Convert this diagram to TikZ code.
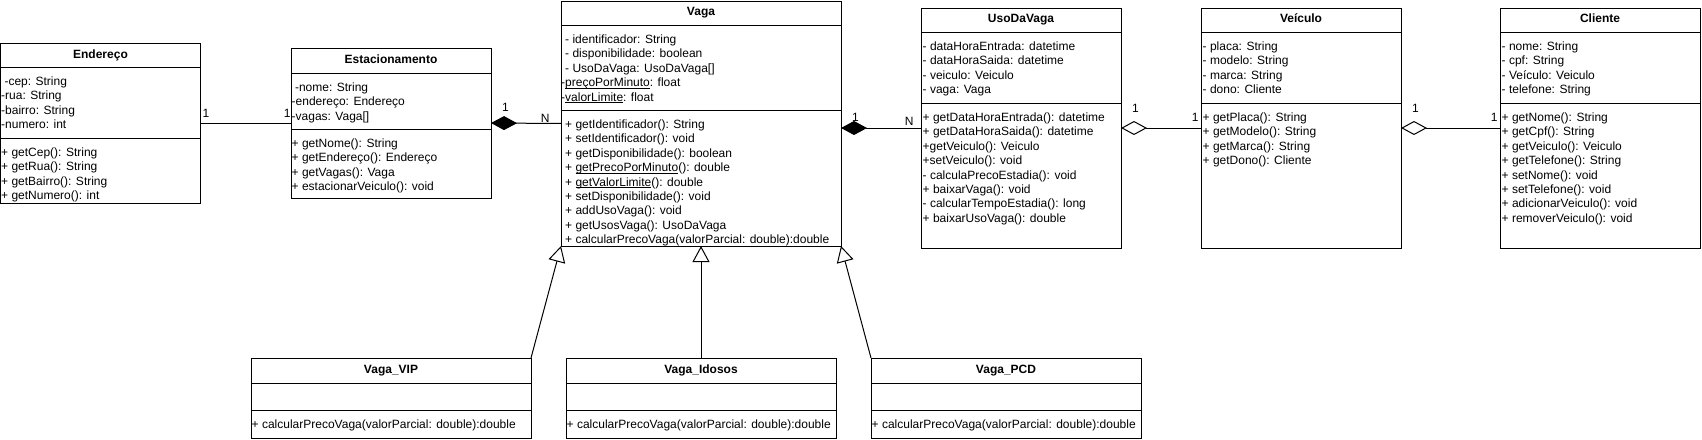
\documentclass[tikz,border=0pt]{standalone}
\usepackage{fontspec}
\setmainfont{Liberation Sans}
\usetikzlibrary{arrows.meta,positioning,fit}

\begin{document}
\begin{tikzpicture}[
    x=1pt, y=-1pt,
    classname/.style={draw, line width=1pt, outer sep=0pt, inner sep=0pt, anchor=north west, text height=8pt, text depth=2pt, font=\bfseries\fontsize{12}{14.4}\selectfont},
    compart/.style={draw, line width=1pt, outer sep=0pt, inner sep=0pt},
    classbox/.style={inner sep=0pt, outer sep=0pt},
    members/.style={align=left, inner sep=0pt, font=\fontsize{12}{14.4}\selectfont},
    mult/.style={inner sep=0pt, font=\fontsize{12}{14.4}\selectfont},
    assoc/.style={line width=1pt},
    composition/.style={line width=1pt, {Diamond[length=26pt, width=14pt]}-},
    aggregation/.style={line width=1pt, {Diamond[open, length=26pt, width=14pt]}-},
    generalization/.style={line width=1pt, -{Triangle[open, length=16pt, width=17pt]}}
]
\useasboundingbox (0,0) rectangle (1702,439);

% Endereco
\node[classname, minimum width=200pt, minimum height=24pt] (endereco) at (0.5,43) {Endereço};
\node[compart, minimum width=200pt, minimum height=71pt, below=0pt of endereco] (endereco-a) {};
\node[compart, minimum width=200pt, minimum height=65pt, below=0pt of endereco-a] (endereco-m) {};
\node[classbox, fit=(endereco)(endereco-m)] (endereco-box) {};
\node[members, below right=8.3pt and 0.5pt of endereco-a.north west] (endereco-at) {\strut\ -cep: String\\-rua: String\\-bairro: String\\-numero: int};
\node[members, below right=8.3pt and 0.5pt of endereco-m.north west] (endereco-mt) {\strut+ getCep(): String\\+ getRua(): String\\+ getBairro(): String\\+ getNumero(): int};

% Estacionamento
\node[classname, minimum width=200pt, minimum height=25pt] (estac) at (291,48) {Estacionamento};
\node[compart, minimum width=200pt, minimum height=56pt, below=0pt of estac] (estac-a) {};
\node[compart, minimum width=200pt, minimum height=69pt, below=0pt of estac-a] (estac-m) {};
\node[classbox, fit=(estac)(estac-m)] (estac-box) {};
\node[members, below right=8.3pt and 0.5pt of estac-a.north west] (estac-at) {\strut\ -nome: String\\-endereço: Endereço\\-vagas: Vaga[]};
\node[members, below right=8.3pt and 0.5pt of estac-m.north west] (estac-mt) {\strut+ getNome(): String\\+ getEndereço(): Endereço\\+ getVagas(): Vaga\\+ estacionarVeiculo(): void};

% Vaga
\node[classname, minimum width=280pt, minimum height=24pt] (vaga) at (561,1) {Vaga};
\node[compart, minimum width=280pt, minimum height=85pt, below=0pt of vaga] (vaga-a) {};
\node[compart, minimum width=280pt, minimum height=136pt, below=0pt of vaga-a] (vaga-m) {};
\node[classbox, fit=(vaga)(vaga-m)] (vaga-box) {};
\node[members, below right=8.3pt and 4pt of vaga-a.north west] (vaga-at) {\strut- identificador: String\\- disponibilidade: boolean\\- UsoDaVaga: UsoDaVaga[]\\\hspace*{-4pt}-\underline{\smash{preçoPorMinuto}}: float\\\hspace*{-4pt}-\underline{\smash{valorLimite}}: float};
\node[members, below right=8.3pt and 4pt of vaga-m.north west] (vaga-mt) {\strut+ getIdentificador(): String\\+ setIdentificador(): void\\+ getDisponibilidade(): boolean\\+ \underline{\smash{getPrecoPorMinuto}}(): double\\+ \underline{\smash{getValorLimite}}(): double\\+ setDisponibilidade(): void\\+ addUsoVaga(): void\\+ getUsosVaga(): UsoDaVaga\\+ calcularPrecoVaga(valorParcial: double):double};

% UsoDaVaga
\node[classname, minimum width=200pt, minimum height=24pt] (usovaga) at (921,8) {UsoDaVaga};
\node[compart, minimum width=200pt, minimum height=71pt, below=0pt of usovaga] (usovaga-a) {};
\node[compart, minimum width=200pt, minimum height=145pt, below=0pt of usovaga-a] (usovaga-m) {};
\node[classbox, fit=(usovaga)(usovaga-m)] (usovaga-box) {};
\node[members, below right=8.3pt and 1.5pt of usovaga-a.north west] (usovaga-at) {\strut- dataHoraEntrada: datetime\\- dataHoraSaida: datetime\\- veiculo: Veiculo\\- vaga: Vaga};
\node[members, below right=8.3pt and 1.5pt of usovaga-m.north west] (usovaga-mt) {\strut+ getDataHoraEntrada(): datetime\\+ getDataHoraSaida(): datetime\\+getVeiculo(): Veiculo\\+setVeiculo(): void\\- calculaPrecoEstadia(): void\\+ baixarVaga(): void\\- calcularTempoEstadia(): long\\+ baixarUsoVaga(): double};

% Veiculo
\node[classname, minimum width=200pt, minimum height=24pt] (veiculo) at (1201,8) {Veículo};
\node[compart, minimum width=200pt, minimum height=71pt, below=0pt of veiculo] (veiculo-a) {};
\node[compart, minimum width=200pt, minimum height=145pt, below=0pt of veiculo-a] (veiculo-m) {};
\node[classbox, fit=(veiculo)(veiculo-m)] (veiculo-box) {};
\node[members, below right=8.3pt and 1.5pt of veiculo-a.north west] (veiculo-at) {\strut- placa: String\\- modelo: String\\- marca: String\\- dono: Cliente};
\node[members, below right=8.3pt and 1.5pt of veiculo-m.north west] (veiculo-mt) {\strut+ getPlaca(): String\\+ getModelo(): String\\+ getMarca(): String\\+ getDono(): Cliente};

% Cliente
\node[classname, minimum width=200pt, minimum height=24pt] (cliente) at (1500,8) {Cliente};
\node[compart, minimum width=200pt, minimum height=71pt, below=0pt of cliente] (cliente-a) {};
\node[compart, minimum width=200pt, minimum height=145pt, below=0pt of cliente-a] (cliente-m) {};
\node[classbox, fit=(cliente)(cliente-m)] (cliente-box) {};
\node[members, below right=8.3pt and 1.5pt of cliente-a.north west] (cliente-at) {\strut- nome: String\\- cpf: String\\- Veículo: Veiculo\\- telefone: String};
\node[members, below right=8.3pt and 1.5pt of cliente-m.north west] (cliente-mt) {\strut+ getNome(): String\\+ getCpf(): String\\+ getVeiculo(): Veiculo\\+ getTelefone(): String\\+ setNome(): void\\+ setTelefone(): void\\+ adicionarVeiculo(): void\\+ removerVeiculo(): void};

% subclasses of Vaga
\node[classname, minimum width=280pt, minimum height=25pt] (vip) at (251,358) {Vaga\_VIP};
\node[compart, minimum width=280pt, minimum height=27pt, below=0pt of vip] (vip-a) {};
\node[compart, minimum width=280pt, minimum height=28pt, below=0pt of vip-a] (vip-m) {};
\node[classbox, fit=(vip)(vip-m)] (vip-box) {};
\node[members, below right=8.3pt and 0.5pt of vip-m.north west] (vip-mt) {\strut+ calcularPrecoVaga(valorParcial: double):double};

\node[classname, minimum width=270pt, minimum height=25pt] (idosos) at (566,358) {Vaga\_Idosos};
\node[compart, minimum width=270pt, minimum height=27pt, below=0pt of idosos] (idosos-a) {};
\node[compart, minimum width=270pt, minimum height=28pt, below=0pt of idosos-a] (idosos-m) {};
\node[classbox, fit=(idosos)(idosos-m)] (idosos-box) {};
\node[members, below right=8.3pt and 0.5pt of idosos-m.north west] (idosos-mt) {\strut+ calcularPrecoVaga(valorParcial: double):double};

\node[classname, minimum width=270pt, minimum height=25pt] (pcd) at (871,358) {Vaga\_PCD};
\node[compart, minimum width=270pt, minimum height=27pt, below=0pt of pcd] (pcd-a) {};
\node[compart, minimum width=270pt, minimum height=28pt, below=0pt of pcd-a] (pcd-m) {};
\node[classbox, fit=(pcd)(pcd-m)] (pcd-box) {};
\node[members, below right=8.3pt and 0.5pt of pcd-m.north west] (pcd-mt) {\strut+ calcularPrecoVaga(valorParcial: double):double};

% associations
\draw[assoc] (endereco-box.east) -- node[mult, pos=0, anchor=base west, xshift=1.7pt, yshift=5.7pt] (m1) {1} node[mult, pos=1, anchor=base east, yshift=5.7pt] (m2) {1} (estac-box.west);
\draw[composition] (estac-box.east) -- node[mult, pos=0, anchor=base west, xshift=10.7pt, yshift=11.7pt] (m3) {1} node[mult, pos=1, anchor=base east, xshift=-11pt, yshift=1pt] (m4) {N} (vaga-box.west);
\draw[composition] (vaga-box.east |- usovaga-box.west) -- node[mult, pos=0, anchor=base west, xshift=10.7pt, yshift=6.7pt] (m5) {1} node[mult, pos=1, anchor=base east, xshift=-7pt, yshift=3pt] (m6) {N} (usovaga-box.west);
\draw[aggregation] (usovaga-box.east) -- node[mult, pos=0, anchor=base west, xshift=10.7pt, yshift=15.4pt] (m7) {1} node[mult, pos=1, anchor=base east, xshift=-2pt, yshift=6.4pt] (m8) {1} (veiculo-box.west);
\draw[aggregation] (veiculo-box.east) -- node[mult, pos=0, anchor=base west, xshift=10.7pt, yshift=15.4pt] (m9) {1} node[mult, pos=1, anchor=base east, xshift=-2pt, yshift=6.4pt] (m10) {1} (cliente-box.west);

% generalizations
\draw[generalization] (vip-box.north east) -- (vaga-box.south west);
\draw[generalization] (idosos-box.north) -- (idosos-box.north |- vaga-box.south);
\draw[generalization] (pcd-box.north west) -- (vaga-box.south east);
\end{tikzpicture}
\end{document}
